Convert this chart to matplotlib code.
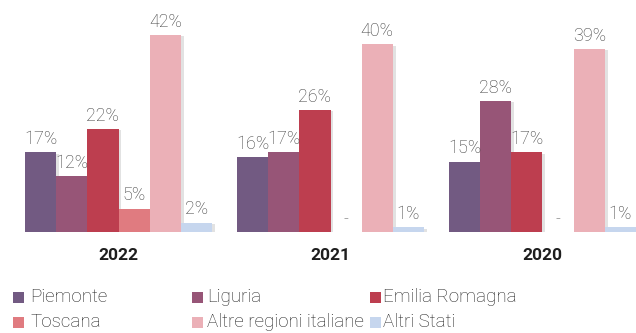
import matplotlib
matplotlib.use("Agg")
import matplotlib.pyplot as plt
import matplotlib.patheffects as pe
from matplotlib.patches import Rectangle
import matplotlib.transforms as mtrans

years = ["2022", "2021", "2020"]
series = ["Piemonte", "Liguria", "Emilia Romagna", "Toscana", "Altre regioni italiane", "Altri Stati"]
colors = ["#725A82", "#975577", "#BD3E4F", "#E07B80", "#EBB0B7", "#C6D6EE"]
values = {
    "2022": [17, 12, 22, 5, 42, 2],
    "2021": [16, 17, 26, None, 40, 1],
    "2020": [15, 28, 17, None, 39, 1],
}

W, H = 636, 333
fig = plt.figure(figsize=(W / 100, H / 100), dpi=100)
ax = fig.add_axes([25 / W, (H - 232) / H, 1 - 25 / W, 232 / H])

gap = 0.8
nb = len(series)
txtcol = "#3c3c3c"
shadow = [pe.SimplePatchShadow(offset=(2, -1), shadow_rgbFace="#999999", alpha=0.28), pe.Normal()]

for g, yr in enumerate(years):
    base = g * (nb + gap)
    for i, (s, c) in enumerate(zip(series, colors)):
        v = values[yr][i]
        x = base + i + 0.5
        if v is None:
            ax.text(x, 2.6, "-", ha="center", va="center", fontsize=12,
                    color=txtcol, family="Roboto", fontweight="light")
            continue
        b = ax.bar(x, v, width=1.0, color=c, linewidth=0, zorder=2)
        for p in b.patches:
            p.set_path_effects(shadow)
        ax.annotate(f"{v}%", (x, v), xytext=(0, 3), textcoords="offset points",
                    ha="center", va="bottom", fontsize=13, color=txtcol,
                    family="Roboto", fontweight="light", zorder=3)
    trans = mtrans.blended_transform_factory(ax.transData, fig.transFigure)
    ax.text(base + nb / 2, (H - 255) / H, yr, transform=trans, ha="center", va="center",
            fontsize=12.5, fontweight="bold", color="#1e1e1e", family="Roboto")

ax.set_xlim(0, 3 * nb + 2 * gap)
ax.set_ylim(0, 232 / 4.69)
ax.axis("off")

# legend (row-wise)
col_sq = [13, 192, 370]
col_tx = [30, 207, 383]
row_y = [297, 322]
for k, (s, c) in enumerate(zip(series, colors)):
    r, cidx = divmod(k, 3)
    yc = row_y[r]
    fig.patches.append(Rectangle((col_sq[cidx] / W, (H - yc - 5.5) / H), 11 / W, 11 / H,
                                 transform=fig.transFigure, facecolor=c, edgecolor="none"))
    fig.text(col_tx[cidx] / W, (H - yc) / H, s, ha="left", va="center", fontsize=13.5,
             color="#222222", family="Roboto", fontweight="light")

fig.savefig("out.png", dpi=100)
